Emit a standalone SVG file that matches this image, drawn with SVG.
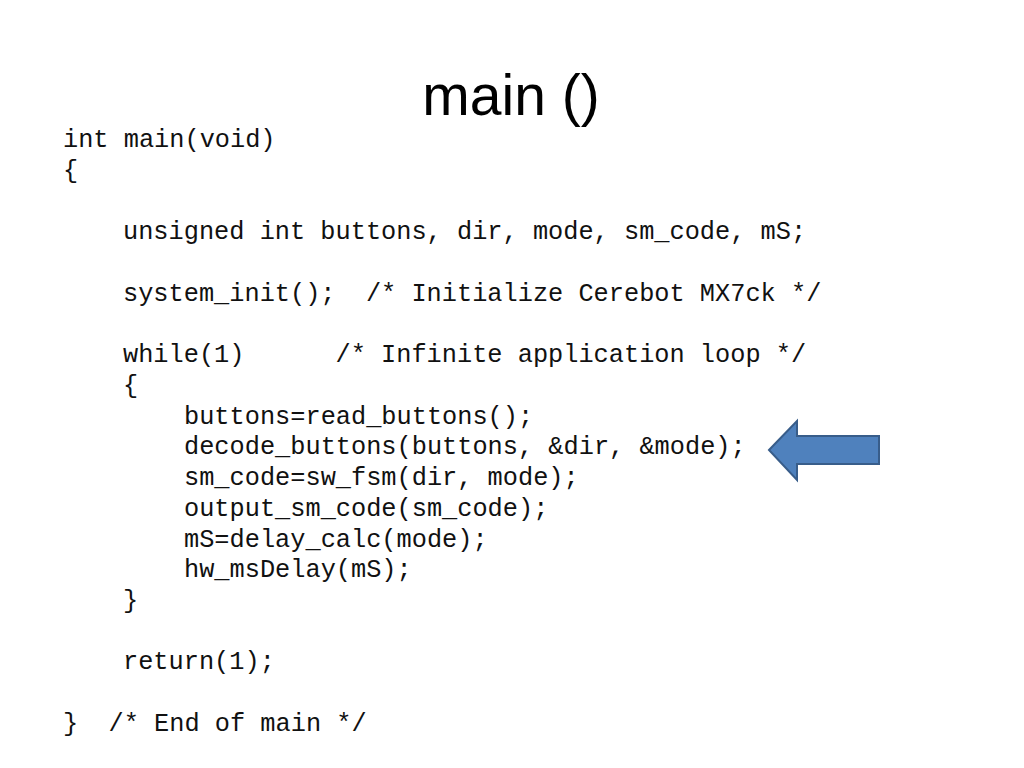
<svg xmlns="http://www.w3.org/2000/svg" width="1024" height="768" viewBox="0 0 1024 768">
  <style>
    .title { font-family: "Liberation Sans", Arial, sans-serif; font-size: 57px; fill: #000; }
    .code { font-family: "Liberation Mono", "Courier New", monospace; font-size: 25.3px; fill: #111; white-space: pre; }
    .arrow { fill: #4F81BD; stroke: #385D8A; stroke-width: 2; stroke-linejoin: miter; }
  </style>
  <rect x="0" y="0" width="1024" height="768" fill="#fff"/>
  <g id="title">
    <text class="title" x="511" y="115" text-anchor="middle">main ()</text>
  </g>
  <g id="code" xml:space="preserve">
    <text class="code" x="63" y="147">int main(void)</text>
    <text class="code" x="63" y="178">{</text>
    <text class="code" x="123" y="239">unsigned int buttons, dir, mode, sm_code, mS;</text>
    <text class="code" x="123" y="301">system_init();  /* Initialize Cerebot MX7ck */</text>
    <text class="code" x="123" y="362">while(1)      /* Infinite application loop */</text>
    <text class="code" x="123" y="393">{</text>
    <text class="code" x="184" y="424">buttons=read_buttons();</text>
    <text class="code" x="184" y="454">decode_buttons(buttons, &amp;dir, &amp;mode);</text>
    <text class="code" x="184" y="485">sm_code=sw_fsm(dir, mode);</text>
    <text class="code" x="184" y="516">output_sm_code(sm_code);</text>
    <text class="code" x="184" y="547">mS=delay_calc(mode);</text>
    <text class="code" x="184" y="577">hw_msDelay(mS);</text>
    <text class="code" x="123" y="608">}</text>
    <text class="code" x="123" y="669">return(1);</text>
    <text class="code" x="63" y="731">}  /* End of main */</text>
  </g>
  <g id="arrow">
    <polygon class="arrow" points="769,450 797,421 797,436 879,436 879,464 797,464 797,480"/>
  </g>
</svg>
